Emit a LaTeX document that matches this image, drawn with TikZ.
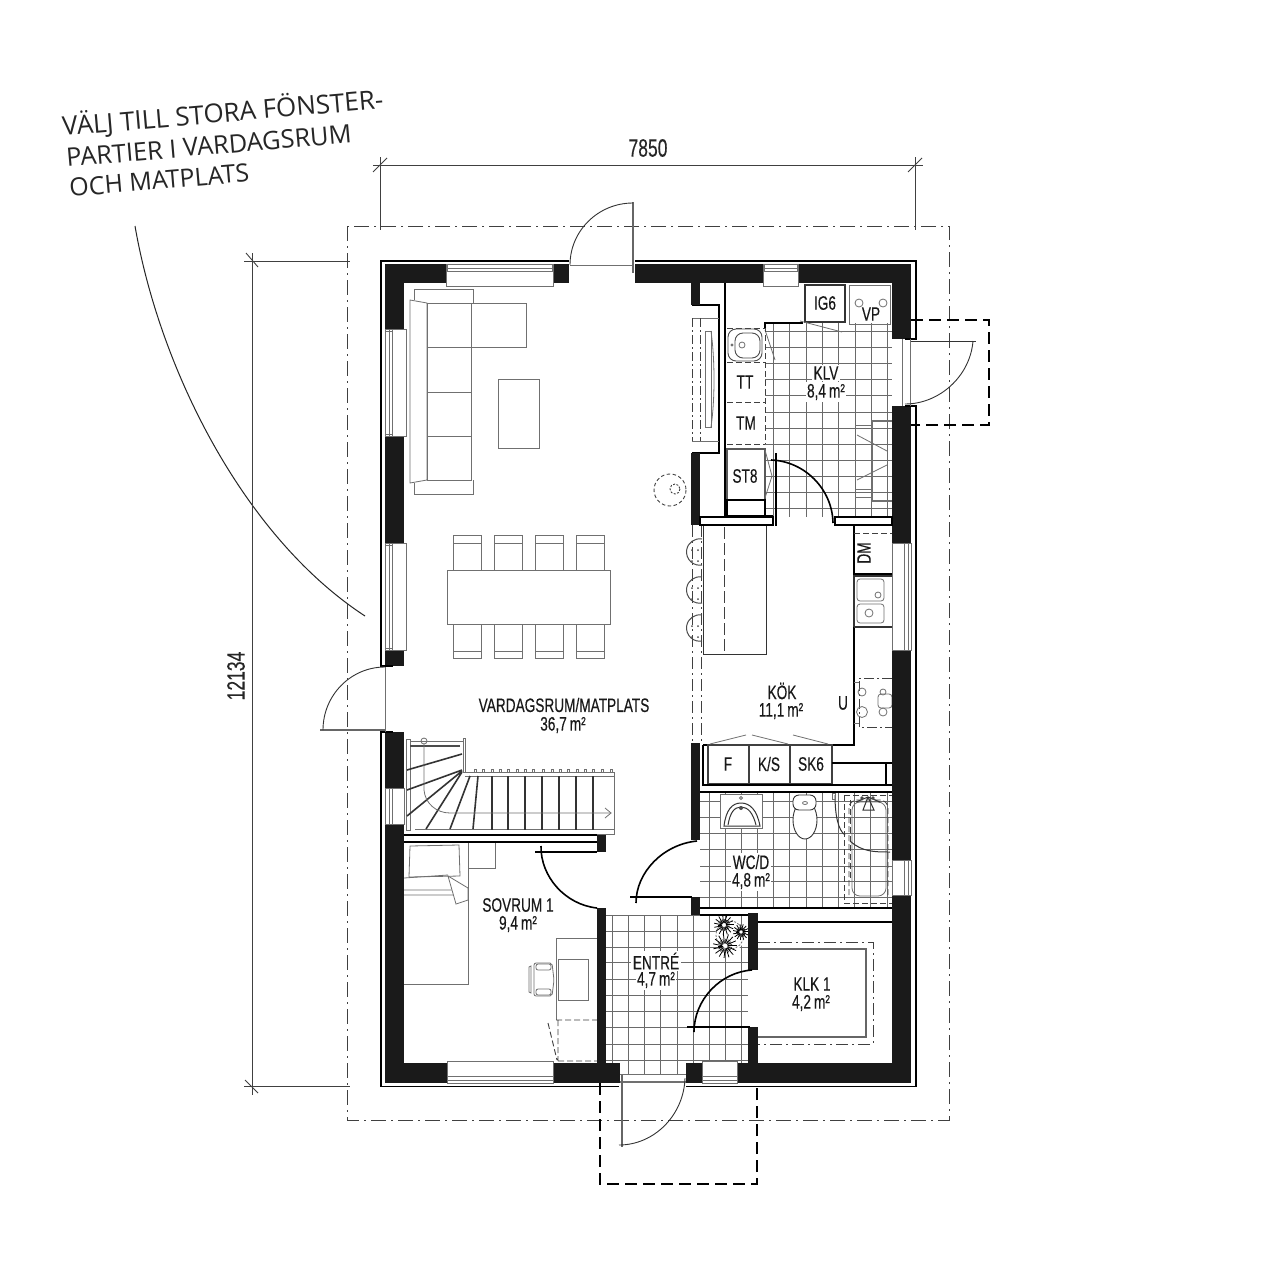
\documentclass[tikz,border=0pt]{standalone}
\usepackage{fontspec}
\usetikzlibrary{calc}
\setmainfont{Liberation Sans}
\newfontfamily\din[FakeStretch=0.70,FakeBold=0.25]{Liberation Sans}
\newfontfamily\noteface{Open Sans}
\definecolor{wallc}{HTML}{1A1A1A}
\definecolor{fur}{HTML}{707070}
\definecolor{tile}{HTML}{6A6A6A}
\newcommand{\qarc}[4][]{\draw[#1] (#2) .. controls ($(#2)+0.5523*(#4)-0.5523*(#3)$) and ($(#4)+0.5523*(#2)-0.5523*(#3)$) .. (#4);}
\newcommand{\msq}{\hspace{3pt}m²}
\tikzset{
 wallfill/.style={fill=wallc,draw=none},
 outline/.style={draw=black,line width=1.5pt},
 thinl/.style={draw=#1,line width=.8pt},
 thinl/.default=fur,
 dk/.style={draw=black,line width=1.1pt},
 axisl/.style={draw=black!75,line width=.9pt,dash pattern=on 15pt off 5pt on 2pt off 5pt},
 canopy/.style={draw=black,line width=1.5pt,dash pattern=on 12pt off 6pt},
 dimline/.style={draw=black!75,line width=.9pt},
 leaf/.style={draw=black!60,line width=2pt},
 swing/.style={draw=black!80,line width=.9pt},
 idoor/.style={draw=black,line width=1.6pt},
 tileln/.style={draw=tile,line width=.7pt},
 fdash/.style={draw=black!75,line width=.9pt,dash pattern=on 6pt off 3pt},
 lbl/.style={font=\din\fontsize{19.5}{21}\selectfont,text=black!90,inner sep=1.5pt},
 lblw/.style={lbl,fill=white},
 dimlbl/.style={font=\din\fontsize{25}{27}\selectfont,text=black!85,inner sep=1pt},
 note/.style={text=black!85,anchor=base west,rotate=4.9,inner sep=0pt},
}
\begin{document}
\begin{tikzpicture}[x=1pt,y=-1pt]
\fill[white] (0,0) rectangle (1280,1280);
\useasboundingbox (0,0) rectangle (1280,1280);

% note
\node[note,font=\noteface\fontsize{26}{27}\selectfont] (n1) at (63,136) {VÄLJ TILL STORA FÖNSTER-};
\node[note,font=\noteface\fontsize{25.4}{27}\selectfont] (n2) at (67,167) {PARTIER I VARDAGSRUM};
\node[note,font=\noteface\fontsize{25}{27}\selectfont] (n3) at (70,197) {OCH MATPLATS};
\draw[draw=black!85,line width=1pt] (135,226) .. controls (160,370) and (244,537) .. (365,616);

% site outline + dimensions
\draw[axisl] (347,226) rectangle (949,1120);
\draw[dimline] (373,165) -- (923,165);
\draw[dimline] (380,157) -- (380,230) (915,157) -- (915,230);
\draw[dimline] (373,172) -- (387,158) (908,172) -- (922,158);
\draw[dimline] (252,253) -- (252,1095);
\draw[dimline] (244,261) -- (350,261) (244,1086) -- (350,1086);
\draw[dimline] (246,253) -- (258,267) (245,1080) -- (258,1093);
\node[dimlbl] (d1) at (648,148) {7850};
\node[dimlbl,rotate=90] (d2) at (236,676) {12134};

% tiles
\foreach \x in {773,789,806,822,838,855,871,887} \draw[tileln] (\x,323) -- (\x,517);
\foreach \y in {331,347,363,379,395,412,428,444,460,476,492,508} \draw[tileln] (765,\y) -- (892,\y);
\foreach \x in {709,725,741,757,773,789,806,822,838,854,870,887} \draw[tileln] (\x,793) -- (\x,908);
\foreach \y in {801,817,833,849,866,881,897} \draw[tileln] (700,\y) -- (892,\y);
\foreach \x in {612,628,644,660,677,693,709,725,741} \draw[tileln] (\x,915) -- (\x,1074);
\foreach \y in {915,931,947,962,979,995,1011,1027,1044,1060} \draw[tileln] (606,\y) -- (748,\y);

% living furniture
\draw[thinl] (410,300) -- (427,303) -- (427,480) -- (410,483) -- cycle;
\draw[thinl] (427,303) rectangle (471,480);
\draw[thinl] (427,347) -- (526,347) -- (526,303) -- (471,303);
\draw[thinl] (427,392) -- (471,392) (427,436) -- (471,436);
\draw[thinl] (414,300) -- (414,289) -- (473,289) -- (473,303);
\draw[thinl] (414,483) -- (414,494) -- (473,494) -- (473,480);
\draw[thinl] (498,379) rectangle (539,448);
\foreach \x in {453,494,535,576}{
  \draw[thinl] (\x,570) -- (\x,535) -- ++(28,0) -- ++(0,35);
  \draw[thinl] (\x,543) -- ++(28,0);
  \draw[thinl] (\x,624) -- (\x,658) -- ++(28,0) -- ++(0,-34);
  \draw[thinl] (\x,651) -- ++(28,0);
}
\draw[thinl] (447,570) rectangle (610,624);
\draw[fdash,dash pattern=on 3.5pt off 2.5pt] (670,490) circle[radius=16];
\draw[fdash,dash pattern=on 2pt off 1.5pt] (675,489) circle[radius=5];

% bedroom furniture
\draw[thinl] (410,846) -- (459,845) -- (460,876) -- (409,877) -- cycle;
\draw[thinl] (404,878) -- (448,875) (404,890) -- (454,890) (404,895) -- (454,895);
\draw[thinl,fill=white] (448,876) -- (468,888) -- (468,900) -- (456,904) -- cycle;
\draw[thinl] (468,842) -- (468,984) -- (404,984);
\draw[thinl] (468,842) rectangle (495,868);
\draw[thinl] (597,938) -- (556,938) -- (556,1020);
\draw[thinl] (558,959) rectangle (588,1000);
\draw[thinl,rounded corners=2pt] (534,963) -- (552,963) -- (554,980) -- (552,996) -- (534,996) -- cycle;
\draw[thinl,rounded corners=2pt] (536,964) rectangle (551,970);
\draw[thinl,rounded corners=2pt] (536,989) rectangle (551,995);
\draw[thinl] (529,967) -- (531,966) -- (531,993) -- (529,992) -- cycle;
\draw[fdash] (556,1020) -- (597,1020) (558,1020) -- (558,1061) (558,1061) -- (597,1061) (548,1023) -- (557,1060);

% stairs
\draw[thinl] (406,739) rectangle (410,830);
\draw[thinl] (410,741) -- (463,741);
\draw[thinl] (463,738) rectangle (465,772);
\draw[thinl] (463,772) -- (614,772) -- (614,834) -- (404,834);
\draw[thinl] (415,829) -- (614,829);
\draw[thinl] (465,776) -- (614,776);
\draw[draw=black!70,line width=1.4pt] (410,746) -- (460,746);
\foreach \x in {475,483,492,500,508,517,525,533,543,552,560,568,577,585,593,602,611} \draw[thinl] (\x-1,769) rectangle (\x+1,772);
\foreach \x in {492,508,525,542,559,576,593} \draw[draw=black!80,line width=1.7pt] (\x,776) -- (\x,830);
\draw[draw=black!80,line width=1.6pt] (478,776) -- (473,829) (470,776) -- (450,829) (462,772) -- (426,829) (462,771) -- (407,816) (462,770) -- (407,790) (462,754) -- (407,770);
\draw[thinl] (424,744) -- (424,790) .. controls (425,803) and (436,813) .. (450,813) -- (611,813);
\draw[thinl] (424,741) circle[radius=3];
\draw[thinl] (605,808) -- (611,813) -- (605,818);

% upper-right utility
\draw[dk] (725,283) -- (725,516) -- (773,516);
\draw[dk] (765,328) -- (765,323) -- (803,323);
\draw[draw=black!80,line width=1.5pt] (805,285) rectangle (845,322);
\draw[thinl] (849,285) rectangle (890,324);
\draw[thinl] (859,303) circle[radius=4] (883,303) circle[radius=4];
\draw[thinl] (765,330) -- (775,360) (800,321) -- (842,332);
\draw[fdash] (727,328) -- (765,328) -- (765,444) (727,362) -- (765,362) (727,402) -- (765,402) (727,444) -- (765,444);
\draw[draw=black!70,line width=.9pt,rounded corners=8pt,fill=white] (728,329) rectangle (762,361);
\draw[draw=black!70,line width=.9pt,rounded corners=8pt] (735,333) rectangle (760,358);
\draw[thinl] (742,345) circle[radius=3] (732,345) circle[radius=1];
\draw[draw=black!65,line width=2pt] (727,449) rectangle (765,500);
\draw[dk] (727,500) rectangle (765,516);
\draw[thinl] (765,450) -- (772,476) -- (765,498);
% bench in KLV
\draw[draw=fur,line width=1.5pt] (892,421) -- (872,421) -- (872,501) -- (892,501);
\draw[thinl] (857,435) -- (887,451) (857,480) -- (887,465);
\foreach \y in {425,489,497} \draw[thinl] (855,\y) -- (872,\y);
% fireplace unit
\draw[draw=black,line width=1.5pt] (692,305) -- (719,305) -- (719,453) -- (692,453);
\draw[thinl] (692,318) -- (719,318) (692,441) -- (719,441);
\draw[thinl] (705,331) rectangle (711,427);
\draw[thinl] (711,331) .. controls (715,360) and (715,400) .. (711,427);
\draw[axisl,dash pattern=on 9pt off 3pt on 2pt off 3pt] (692,318) -- (692,441) (700,318) -- (700,441);

% kitchen
\draw[axisl,dash pattern=on 12pt off 4pt on 2pt off 4pt] (692,525) -- (692,742) (701,525) -- (701,742);
\draw[draw=black!80,line width=1pt] (703,525) -- (703,654) -- (766,654) -- (766,525);
\draw[fdash,dash pattern=on 12pt off 4pt] (724,527) -- (724,654);
\foreach \y in {552,590,628}{
  \draw[draw=black!70,line width=1pt] (702,\y-13) arc[start angle=-80,end angle=-280,radius=13.2];
  \fill[black!70] (692,\y-2) circle[radius=1] (698,\y-2) circle[radius=1] (692,\y+9) circle[radius=1] (698,\y+9) circle[radius=1];
}
\draw[dk] (854,525) -- (854,745) -- (703,745);
\draw[fdash] (854,533) -- (892,533);
\draw[dk] (854,574) -- (892,574);
\draw[draw=black!80,line width=1.6pt] (854,575) -- (854,627) (854,576) -- (892,576) (854,627) -- (892,627);
\draw[thinl,rounded corners=3pt] (857,579) rectangle (884,601);
\draw[thinl,rounded corners=3pt] (857,604) rectangle (884,623);
\draw[thinl] (878,595) circle[radius=3] (869,613) circle[radius=4];
\draw[thinl] (854,682) -- (859,682) (854,723) -- (859,723);
\draw[axisl,dash pattern=on 10pt off 3pt on 2pt off 3pt] (892,678) -- (859,678) -- (859,727) -- (892,727);
\draw[thinl] (862,692) circle[radius=4] (862,712) circle[radius=5.5] (883,692) circle[radius=3] (883,712) circle[radius=4];
\draw[thinl,rounded corners=3pt] (878,694) rectangle (892,708);
\draw[draw=black!75,line width=1.6pt] (708,745) rectangle (749,784) (749,745) rectangle (790,784) (790,745) rectangle (832,784);
\draw[dk] (832,763) -- (892,763) (886,763) -- (886,784);
\draw[dk] (703,745) -- (703,785) -- (892,785);
\draw[dk] (700,792) -- (892,792);
\draw[thinl] (710,744) -- (746,735) (752,735) -- (788,744) (793,735) -- (828,744);

% WC
\draw[thinl,fill=white] (720,794) rectangle (762,828);
\draw[draw=black!80,line width=1pt,fill=white] (724,826) .. controls (726,810) and (732,803) .. (741,803) .. controls (750,803) and (757,810) .. (760,826) -- cycle;
\draw[draw=black!80,line width=1pt] (728,825) .. controls (730,813) and (734,807) .. (741,807) .. controls (748,807) and (753,813) .. (756,825);
\draw[thinl,fill=white] (741,798) circle[radius=1.5];
\fill[black!70] (741,808) circle[radius=2];
\draw[draw=black!80,line width=.9pt,fill=white] (805,820) ellipse[x radius=12,y radius=19];
\draw[draw=black!80,line width=.9pt,fill=white,rounded corners=6pt] (793,795) rectangle (816,810);
\draw[thinl,fill=white] (805,803) ellipse[x radius=2.5,y radius=1.5];
\draw[fdash] (844,795) -- (844,903) -- (892,903) -- (892,795) -- cycle;
\draw[fdash] (850,800) -- (850,880);
\draw[fdash,rounded corners=8pt] (849,895) -- (849,800) -- (888,800) -- (888,898);
\draw[thinl,rounded corners=8pt] (852,896) -- (852,802) -- (886,802) -- (886,896) -- cycle;
\draw[draw=black!80,line width=1pt] (835,795) .. controls (835,815) and (838,830) .. (845,835);
\draw[draw=black!80,line width=1pt] (850,841) .. controls (862,852) and (875,852) .. (890,852);
\draw[draw=black!80,line width=1pt] (856,802) -- (868,797) -- (880,802) (868,797) -- (863,810) -- (874,810) -- cycle;
\draw[thinl] (832,793) rectangle (835,799);
\fill[black!70] (862,798) circle[radius=1.8] (873,798) circle[radius=1.8];
\draw[dk] (700,908) -- (892,908);
\draw[dk] (758,922) -- (892,922);

% KLK
\draw[draw=black!60,line width=1.2pt] (758,949) -- (866,949) -- (866,1037) -- (758,1037);
\draw[axisl,dash pattern=on 12pt off 4pt on 2pt off 4pt] (758,942) -- (873,942) -- (873,1044) -- (758,1044);

% plant
\fill[white] (730,936) circle[radius=15];
\draw[thinl,dash pattern=on 2pt off 1.5pt] (730,935) circle[radius=14];
\foreach \cx/\cy/\r in {724/925/10,741/932/8,725/946/12}{
  \foreach \a in {0,24,...,336}{
    \draw[draw=black,line width=.8pt] (\cx,\cy) ++(\a-6:\r*.25) -- ++(\a:\r*.75);
    \draw[draw=black,line width=.5pt] (\cx,\cy) ++(\a+12:\r*.2) -- ++(\a+12:\r*.4);
  }
}

% walls
\fill[wallfill] (385,264) rectangle (446,283);
\fill[wallfill] (553,264) rectangle (569,283);
\fill[wallfill] (635,264) rectangle (763,283);
\fill[wallfill] (798,264) rectangle (911,283);
\fill[wallfill] (385,264) rectangle (404,329);
\fill[wallfill] (385,436) rectangle (404,543);
\fill[wallfill] (385,650) rectangle (404,666);
\fill[wallfill] (385,732) rectangle (404,788);
\fill[wallfill] (385,824) rectangle (404,1083);
\fill[wallfill] (385,1063) rectangle (447,1083);
\fill[wallfill] (553,1063) rectangle (620,1083);
\fill[wallfill] (686,1063) rectangle (702,1083);
\fill[wallfill] (737,1063) rectangle (911,1083);
\fill[wallfill] (892,264) rectangle (911,339);
\fill[wallfill] (892,406) rectangle (911,543);
\fill[wallfill] (892,650) rectangle (911,860);
\fill[wallfill] (892,895) rectangle (911,1083);
\fill[wallfill] (691,283) rectangle (700,305);
\fill[wallfill] (691,453) rectangle (700,525);
\fill[wallfill] (691,743) rectangle (700,840);
\fill[wallfill] (691,897) rectangle (700,915);
\fill[wallfill] (597,835) rectangle (606,852);
\fill[wallfill] (597,908) rectangle (606,1063);
\fill[wallfill] (748,913) rectangle (758,970);
\fill[wallfill] (748,1027) rectangle (758,1063);

% thin walls
\draw[dk,fill=white] (700,517) rectangle (773,525);
\draw[dk,fill=white] (835,517) rectangle (892,525);
\draw[dk] (773,516) -- (773,526) (776,453) -- (776,526);
\draw[dk] (404,835) -- (597,835) (404,842) -- (597,842);
\draw[dk] (700,915) -- (748,915);

% outer line
\draw[outline] (569,261) -- (381,261) -- (381,666) -- (393,666);
\draw[outline] (393,732) -- (381,732) -- (381,1086.5) -- (619,1086.5);
\draw[outline] (686,1086.5) -- (916,1086.5) -- (916,406) -- (905,406);
\draw[outline] (905,339) -- (916,339) -- (916,261) -- (635,261);

% windows
\foreach \xa/\xb in {446/553,763/798}{
  \draw[thinl,fill=white] (\xa,264) rectangle (\xb,286);
  \draw[thinl] (\xa,268) -- (\xb,268) (\xa,271) -- (\xb,271);
  \draw[thinl] (\xa+1,264) -- (\xa+1,272) (\xb-1,264) -- (\xb-1,272);
}
\draw[thinl,fill=white] (447,1061) rectangle (553,1083);
\draw[thinl] (447,1076) -- (553,1076) (447,1080) -- (553,1080);
\draw[thinl,fill=white] (702,1061) rectangle (737,1083);
\draw[thinl] (702,1076) -- (737,1076) (702,1080) -- (737,1080);
\foreach \ya/\yb in {329/436,543/650}{
  \draw[thinl,fill=white] (385,\ya) rectangle (406,\yb);
  \draw[thinl] (389,\ya) -- (389,\yb) (392,\ya) -- (392,\yb);
  \draw[thinl] (385,\ya+2) -- (392,\ya+2) (385,\yb-2) -- (392,\yb-2);
}
\draw[thinl,fill=white] (385,788) rectangle (404,824);
\draw[thinl] (389,788) -- (389,824) (392,788) -- (392,824);
\foreach \ya/\yb in {543/650,860/895}{
  \draw[thinl,fill=white] (892,\ya) rectangle (911,\yb);
  \draw[thinl] (904,\ya) -- (904,\yb) (908,\ya) -- (908,\yb);
}

% entrance thresholds and doors
\draw[thinl] (570,265) -- (633,265);
\draw[leaf] (633,202) -- (633,273);
\qarc[swing]{633,203}{633,265}{570,265}
\draw[thinl] (385,667) -- (385,732);
\draw[leaf] (320,730) -- (385,730);
\qarc[swing]{323,730}{385,730}{385,667}
\draw[thinl] (620,1074) -- (686,1074);
\draw[draw=fur,line width=1.2pt] (620,1082) -- (686,1082);
\draw[leaf] (622,1075) -- (622,1147);
\qarc[swing]{619,1145}{621,1078}{685,1078}
\draw[thinl] (902,339) -- (902,406) (910,339) -- (910,406);
\draw[draw=black!80,line width=1pt] (911,341) -- (976,341);
\qarc[swing]{973,341}{910,341}{905,404}
\qarc[idoor]{771,460}{772,521}{833,523}
\draw[idoor] (535,852) -- (597,852);
\qarc[idoor]{541,846}{598,852}{597,908}
\draw[idoor] (630,897) -- (692,897);
\qarc[idoor]{636,903}{697,897}{697,841}
\draw[idoor] (687,1027) -- (750,1027);
\qarc[idoor]{694,1032}{752,1028}{752,970}

% canopies
\draw[canopy] (911,320) -- (989,320) -- (989,425) -- (911,425);
\draw[canopy] (600,1083) -- (600,1184) -- (757,1184) -- (757,1083);

% labels
\node[lbl] (l1) at (564,705) {VARDAGSRUM/MATPLATS};
\node[lbl] (l2) at (563,725) {36,7\msq};
\node[lbl] (l3) at (782,691) {KÖK};
\node[lbl] (l4) at (781,711) {11,1\msq};
\node[lblw] (l5) at (751,862) {WC/D};
\node[lblw] (l6) at (751,881) {4,8\msq};
\node[lblw] (l7) at (656,961) {ENTRÉ};
\node[lblw] (l8) at (656,980) {4,7\msq};
\node[lbl] (l9) at (518,905) {SOVRUM 1};
\node[lbl] (l10) at (518,924) {9,4\msq};
\node[lblw] (l11) at (826,373) {KLV};
\node[lblw] (l12) at (826,392) {8,4\msq};
\node[lbl] (l13) at (812,984) {KLK 1};
\node[lbl] (l14) at (811,1003) {4,2\msq};
\node[lbl] (t1) at (745,382) {TT};
\node[lbl] (t2) at (746,423) {TM};
\node[lbl] (t3) at (745,476) {ST8};
\node[lbl] (t4) at (825,303) {IG6};
\node[lbl] (t5) at (871,314) {VP};
\node[lbl,rotate=90] (t6) at (864,553) {DM};
\node[lbl] (t7) at (843,703) {U};
\node[lbl] (t8) at (728,764) {F};
\node[lbl] (t9) at (769,764) {K/S};
\node[lbl] (t10) at (811,764) {SK6};
\end{tikzpicture}
\end{document}
